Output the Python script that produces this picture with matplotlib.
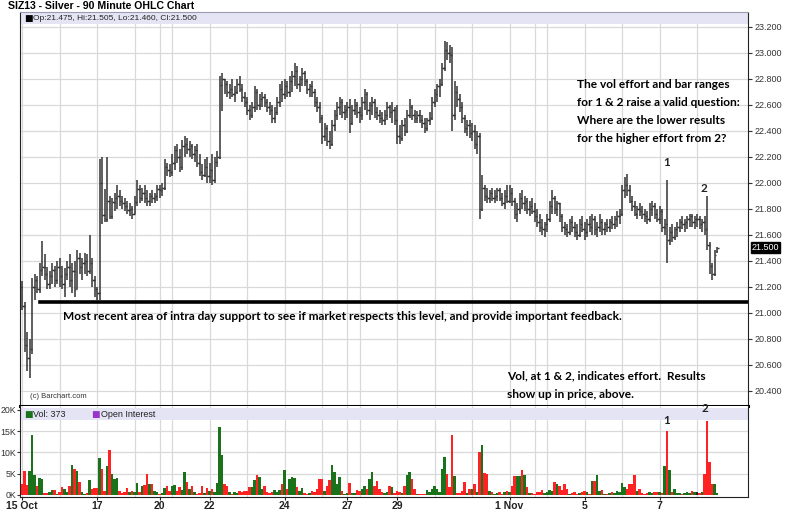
import numpy as np
import matplotlib.pyplot as plt
from matplotlib.patches import Rectangle
from matplotlib.transforms import blended_transform_factory

# sessions (90 minute bars per session)
day_labels = ['15 Oct', '16', '17', '18', '20', '21', '22', '23', '24', '25', '27',
              '28', '29', '30', '31', '1 Nov', '3', '4', '5', '6', '7', '8']
bars_per_day = [15, 15, 15, 10, 5, 15, 15, 15, 15, 10, 5, 15, 15, 15, 15, 10, 5, 15, 15, 15, 15, 9]
shown_days = ['15 Oct', '17', '20', '22', '24', '27', '29', '1 Nov', '5', '7']

opens = [21.20, 21.05, 20.75, 20.65, 20.72, 21.20, 21.25, 21.18, 21.33, 21.35, 21.30, 21.22, 21.28, 21.33, 21.25,
         21.35, 21.28, 21.22, 21.30, 21.35, 21.25, 21.32, 21.18, 21.42, 21.35, 21.38, 21.40, 21.32, 21.38, 21.25,
         21.18, 21.15, 22.00, 21.75, 21.72, 21.86, 21.74, 21.85, 21.88, 21.90, 21.86, 21.84, 21.82, 21.79, 21.80,
         21.76, 21.85, 21.95, 21.88, 21.92, 21.88, 21.86, 21.90, 21.88, 21.90,
         21.95, 21.94, 21.96, 22.12, 22.10,
         22.08, 22.15, 22.25, 22.20, 22.12, 22.28, 22.30, 22.26, 22.28, 22.22, 22.25, 22.15, 22.08, 22.06, 22.12,
         22.05, 22.10, 22.02, 22.16, 22.20, 22.75, 22.80, 22.76, 22.70, 22.72, 22.68, 22.70, 22.76, 22.72, 22.66,
         22.62, 22.56, 22.52, 22.58, 22.70, 22.60, 22.64, 22.66, 22.62, 22.58, 22.56, 22.50, 22.54, 22.62, 22.72,
         22.68, 22.74, 22.70, 22.78, 22.82, 22.86, 22.76, 22.80, 22.84, 22.78, 22.72, 22.74, 22.70, 22.62, 22.58,
         22.50, 22.36, 22.42, 22.32, 22.30, 22.44, 22.52, 22.58, 22.62, 22.54,
         22.56, 22.58, 22.46, 22.56, 22.60,
         22.54, 22.52, 22.62, 22.68, 22.56, 22.60, 22.62, 22.54, 22.52, 22.50, 22.48, 22.52, 22.58, 22.54, 22.56,
         22.48, 22.36, 22.34, 22.44, 22.40, 22.52, 22.58, 22.52, 22.50, 22.52, 22.48, 22.46, 22.42, 22.48, 22.50,
         22.62, 22.68, 22.74, 22.76, 22.88, 23.02, 23.00, 22.98, 22.52, 22.70, 22.64, 22.58, 22.50, 22.42, 22.44,
         22.38, 22.40, 22.30, 22.36, 21.80, 21.96, 21.90, 21.88, 21.92, 21.88, 21.90, 21.94, 21.88, 21.84, 21.90,
         21.86, 21.92, 21.86, 21.76, 21.80, 21.88, 21.84, 21.86, 21.80, 21.82,
         21.78, 21.74, 21.70, 21.66, 21.64,
         21.68, 21.72, 21.82, 21.88, 21.80, 21.84, 21.74, 21.66, 21.64, 21.62, 21.70, 21.66, 21.62, 21.60, 21.68,
         21.64, 21.62, 21.68, 21.66, 21.72, 21.64, 21.66, 21.70, 21.64, 21.68, 21.66, 21.70, 21.68, 21.72, 21.74,
         21.76, 21.94, 21.98, 21.94, 21.86, 21.82, 21.76, 21.80, 21.78, 21.76, 21.74, 21.72, 21.80, 21.82, 21.76,
         21.72, 21.78, 21.66, 21.68, 21.56, 21.62, 21.58, 21.64, 21.66, 21.70, 21.68, 21.70, 21.72, 21.74, 21.70,
         21.72, 21.72, 21.68, 21.70, 21.64, 21.52, 21.36, 21.30, 21.475]
highs = [21.24, 21.08, 20.85, 20.80, 21.27, 21.30, 21.28, 21.38, 21.55, 21.45, 21.35, 21.32, 21.38, 21.36, 21.40,
         21.42, 21.36, 21.34, 21.40, 21.45, 21.38, 21.40, 21.48, 21.46, 21.42, 21.46, 21.45, 21.60, 21.42, 21.28,
         21.20, 22.18, 22.20, 21.95, 22.20, 21.90, 21.88, 21.92, 21.98, 21.94, 21.90, 21.88, 21.86, 21.84, 21.82,
         21.90, 22.02, 21.98, 21.96, 21.98, 21.94, 21.92, 21.94, 21.92, 21.98,
         21.98, 22.00, 22.18, 22.15, 22.14,
         22.22, 22.28, 22.30, 22.26, 22.33, 22.36, 22.34, 22.32, 22.30, 22.28, 22.30, 22.22, 22.14, 22.18, 22.20,
         22.15, 22.22, 22.20, 22.24, 22.82, 22.84, 22.80, 22.78, 22.76, 22.80, 22.74, 22.80, 22.82, 22.76, 22.70,
         22.66, 22.60, 22.62, 22.74, 22.72, 22.68, 22.70, 22.68, 22.64, 22.62, 22.60, 22.58, 22.66, 22.76, 22.78,
         22.80, 22.78, 22.82, 22.86, 22.92, 22.90, 22.82, 22.88, 22.86, 22.80, 22.76, 22.78, 22.72, 22.66, 22.62,
         22.52, 22.46, 22.44, 22.40, 22.48, 22.56, 22.62, 22.66, 22.64, 22.60,
         22.62, 22.64, 22.60, 22.64, 22.62,
         22.58, 22.66, 22.72, 22.70, 22.62, 22.66, 22.64, 22.58, 22.56, 22.54, 22.56, 22.62, 22.60, 22.62, 22.58,
         22.60, 22.44, 22.48, 22.50, 22.56, 22.64, 22.60, 22.56, 22.55, 22.56, 22.52, 22.50, 22.50, 22.54, 22.66,
         22.72, 22.76, 22.80, 22.92, 23.09, 23.08, 23.06, 23.04, 22.78, 22.74, 22.68, 22.62, 22.52, 22.48, 22.48,
         22.46, 22.44, 22.40, 22.38, 22.06, 21.98, 21.96, 21.94, 21.96, 21.94, 21.96, 21.96, 21.92, 21.94, 21.98,
         21.98, 21.96, 21.88, 21.84, 21.92, 21.94, 21.90, 21.88, 21.86, 21.88,
         21.84, 21.80, 21.76, 21.72, 21.70,
         21.76, 21.86, 21.94, 21.90, 21.86, 21.84, 21.76, 21.70, 21.68, 21.72, 21.74, 21.70, 21.68, 21.72, 21.74,
         21.70, 21.72, 21.74, 21.76, 21.74, 21.70, 21.76, 21.72, 21.70, 21.72, 21.72, 21.74, 21.74, 21.78, 21.80,
         21.98, 22.04, 22.07, 21.98, 21.90, 21.86, 21.82, 21.84, 21.82, 21.80, 21.78, 21.84, 21.86, 21.84, 21.80,
         21.82, 21.80, 21.72, 22.02, 21.66, 21.68, 21.66, 21.70, 21.72, 21.74, 21.72, 21.74, 21.76, 21.76, 21.74,
         21.76, 21.74, 21.72, 21.74, 21.90, 21.54, 21.38, 21.48, 21.505]
lows = [21.02, 20.70, 20.55, 20.50, 20.68, 21.10, 21.15, 21.15, 21.28, 21.25, 21.18, 21.18, 21.22, 21.20, 21.22,
        21.20, 21.18, 21.12, 21.25, 21.20, 21.15, 21.12, 21.18, 21.30, 21.25, 21.30, 21.28, 21.30, 21.20, 21.12,
        21.10, 21.10, 21.68, 21.70, 21.70, 21.72, 21.72, 21.78, 21.80, 21.82, 21.80, 21.78, 21.76, 21.74, 21.72,
        21.76, 21.82, 21.84, 21.86, 21.84, 21.82, 21.82, 21.84, 21.84, 21.86,
        21.88, 21.90, 21.94, 22.05, 22.04,
        22.05, 22.10, 22.15, 22.08, 22.10, 22.20, 22.22, 22.20, 22.18, 22.16, 22.12, 22.05, 22.02, 22.04, 22.00,
        22.00, 21.98, 22.00, 22.12, 22.18, 22.55, 22.68, 22.66, 22.64, 22.66, 22.62, 22.68, 22.70, 22.62, 22.58,
        22.52, 22.48, 22.50, 22.54, 22.56, 22.56, 22.58, 22.58, 22.54, 22.52, 22.46, 22.46, 22.52, 22.58, 22.62,
        22.64, 22.66, 22.66, 22.70, 22.74, 22.72, 22.70, 22.74, 22.74, 22.68, 22.66, 22.66, 22.58, 22.54, 22.46,
        22.30, 22.32, 22.28, 22.26, 22.28, 22.40, 22.48, 22.52, 22.50, 22.48,
        22.50, 22.38, 22.44, 22.52, 22.50,
        22.46, 22.48, 22.56, 22.52, 22.48, 22.52, 22.50, 22.48, 22.46, 22.44, 22.44, 22.48, 22.50, 22.46, 22.44,
        22.30, 22.30, 22.32, 22.36, 22.38, 22.50, 22.48, 22.46, 22.46, 22.46, 22.42, 22.38, 22.40, 22.44, 22.48,
        22.58, 22.62, 22.66, 22.74, 22.86, 22.94, 22.92, 22.40, 22.48, 22.58, 22.54, 22.46, 22.38, 22.36, 22.34,
        22.32, 22.26, 22.22, 21.72, 21.78, 21.86, 21.84, 21.84, 21.86, 21.84, 21.86, 21.86, 21.82, 21.80, 21.84,
        21.84, 21.82, 21.72, 21.70, 21.76, 21.80, 21.78, 21.76, 21.74, 21.76,
        21.70, 21.66, 21.62, 21.60, 21.58,
        21.62, 21.70, 21.76, 21.76, 21.74, 21.70, 21.62, 21.60, 21.58, 21.60, 21.62, 21.58, 21.56, 21.58, 21.62,
        21.56, 21.58, 21.62, 21.60, 21.60, 21.58, 21.62, 21.60, 21.60, 21.62, 21.62, 21.64, 21.64, 21.66, 21.68,
        21.74, 21.88, 21.90, 21.84, 21.78, 21.74, 21.72, 21.74, 21.72, 21.70, 21.68, 21.70, 21.74, 21.72, 21.70,
        21.68, 21.62, 21.60, 21.38, 21.52, 21.54, 21.56, 21.58, 21.62, 21.64, 21.62, 21.64, 21.66, 21.66, 21.64,
        21.66, 21.64, 21.62, 21.60, 21.48, 21.30, 21.25, 21.28, 21.46]
closes = [21.05, 20.75, 20.65, 20.72, 21.20, 21.25, 21.18, 21.33, 21.35, 21.30, 21.22, 21.28, 21.33, 21.25, 21.35,
          21.28, 21.22, 21.30, 21.35, 21.25, 21.32, 21.18, 21.42, 21.35, 21.38, 21.40, 21.32, 21.38, 21.25, 21.18,
          21.15, 22.00, 21.75, 21.72, 21.86, 21.74, 21.85, 21.88, 21.90, 21.86, 21.84, 21.82, 21.79, 21.80, 21.76,
          21.85, 21.95, 21.88, 21.92, 21.88, 21.86, 21.90, 21.88, 21.90, 21.95,
          21.94, 21.96, 22.12, 22.10, 22.08,
          22.15, 22.25, 22.20, 22.12, 22.28, 22.30, 22.26, 22.28, 22.22, 22.25, 22.15, 22.08, 22.06, 22.12, 22.05,
          22.10, 22.02, 22.16, 22.20, 22.75, 22.80, 22.76, 22.70, 22.72, 22.68, 22.70, 22.76, 22.72, 22.66, 22.62,
          22.56, 22.52, 22.58, 22.70, 22.60, 22.64, 22.66, 22.62, 22.58, 22.56, 22.50, 22.54, 22.62, 22.72, 22.68,
          22.74, 22.70, 22.78, 22.82, 22.86, 22.76, 22.80, 22.84, 22.78, 22.72, 22.74, 22.70, 22.62, 22.58, 22.50,
          22.36, 22.42, 22.32, 22.30, 22.44, 22.52, 22.58, 22.62, 22.54, 22.56,
          22.58, 22.46, 22.56, 22.60, 22.54,
          22.52, 22.62, 22.68, 22.56, 22.60, 22.62, 22.54, 22.52, 22.50, 22.48, 22.52, 22.58, 22.54, 22.56, 22.48,
          22.36, 22.34, 22.44, 22.40, 22.52, 22.58, 22.52, 22.50, 22.52, 22.48, 22.46, 22.42, 22.48, 22.50, 22.62,
          22.68, 22.74, 22.76, 22.88, 23.02, 23.00, 22.98, 22.52, 22.70, 22.64, 22.58, 22.50, 22.42, 22.44, 22.38,
          22.40, 22.30, 22.36, 21.80, 21.96, 21.90, 21.88, 21.92, 21.88, 21.90, 21.94, 21.88, 21.84, 21.90, 21.86,
          21.92, 21.86, 21.76, 21.80, 21.88, 21.84, 21.86, 21.80, 21.82, 21.78,
          21.74, 21.70, 21.66, 21.64, 21.68,
          21.72, 21.82, 21.88, 21.80, 21.84, 21.74, 21.66, 21.64, 21.62, 21.70, 21.66, 21.62, 21.60, 21.68, 21.64,
          21.62, 21.68, 21.66, 21.72, 21.64, 21.66, 21.70, 21.64, 21.68, 21.66, 21.70, 21.68, 21.72, 21.74, 21.76,
          21.94, 21.98, 21.94, 21.86, 21.82, 21.76, 21.80, 21.78, 21.76, 21.74, 21.72, 21.80, 21.82, 21.76, 21.72,
          21.78, 21.66, 21.68, 21.56, 21.62, 21.58, 21.64, 21.66, 21.70, 21.68, 21.70, 21.72, 21.74, 21.70, 21.72,
          21.72, 21.68, 21.70, 21.64, 21.52, 21.36, 21.30, 21.44, 21.50]
# volume in thousands of contracts
volume_k = [2.7, 5.6, 2.4, 5.6, 14.0, 4.6, 2.2, 4.0, 3.8, 0.5, 0.4, 0.8, 1.1, 1.2, 0.3,
            0.8, 1.9, 1.5, 0.7, 2.0, 7.0, 6.0, 5.6, 3.0, 0.8, 0.3, 0.5, 3.6, 1.5, 1.7,
            1.6, 8.7, 6.0, 0.9, 6.7, 10.5, 5.0, 3.8, 4.0, 1.0, 0.5, 0.8, 1.7, 0.6, 1.0,
            0.8, 2.8, 0.8, 2.2, 2.4, 5.0, 2.5, 2.5, 1.0, 0.6,
            0.3, 0.5, 1.6, 2.0, 0.9,
            2.2, 2.3, 1.0, 1.8, 1.2, 5.4, 3.0, 1.3, 2.0, 0.6, 0.3, 0.5, 2.0, 0.4, 1.7,
            0.9, 1.5, 0.8, 2.8, 16.0, 9.5, 2.6, 2.0, 0.8, 0.3, 0.6, 0.5, 1.0, 0.8, 1.0,
            1.0, 1.8, 1.8, 3.5, 4.7, 4.2, 1.3, 2.0, 0.8, 0.4, 0.6, 1.1, 0.8, 1.2, 2.6,
            5.8, 1.5, 3.8, 4.2, 4.0, 1.8, 1.0, 1.6, 0.4, 0.3, 0.5, 1.0, 0.6, 1.3, 3.8,
            3.8, 1.0, 2.0, 3.6, 7.0, 5.3, 2.5, 4.2, 1.0, 0.3,
            0.4, 2.8, 0.5, 0.4, 1.2,
            1.0, 1.5, 2.0, 1.5, 3.8, 5.5, 2.0, 3.2, 1.5, 0.8, 0.4, 0.6, 2.0, 1.8, 0.5,
            1.0, 0.8, 0.5, 2.0, 4.8, 5.3, 3.8, 1.3, 0.3, 0.2, 0.2, 0.3, 1.2, 0.8, 1.5,
            2.2, 1.5, 0.8, 6.2, 9.0, 4.9, 1.8, 14.2, 4.5, 0.4, 0.5, 1.0, 3.1, 0.5, 1.5,
            1.5, 2.5, 0.8, 10.0, 11.8, 5.2, 5.0, 1.0, 0.6, 0.3, 0.4, 0.8, 0.3, 0.6, 1.0,
            0.8, 2.0, 4.5, 4.5, 4.5, 5.8, 4.6, 1.8, 0.5, 0.4,
            0.3, 0.8, 0.8, 1.2, 0.5,
            0.8, 1.2, 1.0, 3.1, 2.5, 2.0, 1.2, 2.6, 1.5, 0.3, 0.5, 0.8, 0.3, 0.5, 0.8,
            1.0, 0.8, 0.3, 3.2, 3.2, 4.6, 1.0, 1.2, 0.3, 0.2, 0.4, 0.8, 0.5, 1.0, 0.8,
            2.9, 1.8, 1.5, 2.5, 2.6, 4.7, 1.0, 1.5, 0.4, 0.3, 0.5, 0.6, 0.4, 0.8, 0.8,
            0.8, 0.4, 6.8, 15.0, 5.9, 0.8, 1.3, 0.4, 0.5, 0.3, 0.5, 0.8, 0.5, 0.9, 0.8,
            0.6, 0.4, 0.8, 4.9, 17.4, 7.8, 2.7, 2.7, 0.373]

price_ticks = [20.4, 20.6, 20.8, 21.0, 21.2, 21.4, 21.6, 21.8, 22.0, 22.2, 22.4, 22.6, 22.8, 23.0, 23.2]
vol_ticks = [0, 5, 10, 15, 20]
support_level = 21.08

opens, highs, lows, closes = map(np.array, (opens, highs, lows, closes))
volume_k = np.array(volume_k)
x = np.arange(len(closes))
day_starts = np.concatenate([[0], np.cumsum(bars_per_day)[:-1]])

W, H = 800, 513
fig = plt.figure(figsize=(W / 100, H / 100), dpi=100)
plt.rcParams['font.family'] = ['Liberation Sans', 'DejaVu Sans']


def fx(px):
    return px / W


def fy(py):
    return 1 - py / H


ax = fig.add_axes([fx(20), fy(406), fx(748) - fx(20), fy(12) - fy(406)])
axv = fig.add_axes([fx(20), fy(497), fx(748) - fx(20), fy(406) - fy(497)], sharex=ax)

grid_c = '#d9d9d9'
for a in (ax, axv):
    for d in day_starts:
        a.axvline(d, color=grid_c, lw=0.9, zorder=0)
    for s in a.spines.values():
        s.set_color('#222222')

# price panel
for t in price_ticks:
    ax.axhline(t, color=grid_c, lw=0.9, zorder=0)
bar_c = '#333333'
ax.vlines(x, lows, highs, color=bar_c, lw=1.1)
ax.hlines(opens, x - 0.6, x, color=bar_c, lw=1.0)
ax.hlines(closes, x, x + 0.6, color=bar_c, lw=1.0)
ax.axhline(support_level, xmin=(7.2 + 0.8) / 291.2, color='black', lw=2.6)

ax.set_xlim(-0.8, 290.4)
ax.set_ylim(20.282, 23.313)
ax.yaxis.tick_right()
ax.set_yticks(price_ticks)
ax.set_yticklabels([f'{t:.3f}' for t in price_ticks])
ax.tick_params(axis='y', length=3, width=0.8, pad=2, labelsize=6.5, colors='#333333')
ax.tick_params(axis='x', bottom=False, labelbottom=False)
ax.spines['bottom'].set_linewidth(2.2)
ax.spines['bottom'].set_color('black')
ax.spines['top'].set_color('#9a9ab0')

# header band inside price panel
ax.add_patch(Rectangle((0, 1 - 12 / 394), 1, 12 / 394, transform=ax.transAxes,
                       facecolor='#e4e4f4', edgecolor='none', zorder=1))
trans = blended_transform_factory(ax.transAxes, ax.transData)
ax.text(1 + 4 / 728, closes[-1], f'{closes[-1]:.3f}', transform=trans, fontsize=6.5,
        color='white', va='center', ha='left',
        bbox=dict(boxstyle='square,pad=0.1', facecolor='black', edgecolor='black'))

# volume panel
for t in vol_ticks[1:-1]:
    axv.axhline(t, color=grid_c, lw=0.9, zorder=0)
up = closes > opens
down = closes < opens
vol_colors = np.where(up, '#1a721a', np.where(down, '#ff2222', '#222222'))
axv.bar(x, volume_k, width=0.85, color=vol_colors, edgecolor='none', zorder=2)
axv.set_ylim(-0.47, 20.9)
axv.set_yticks(vol_ticks)
axv.set_yticklabels([f'{t}K' for t in vol_ticks])
axv.tick_params(axis='y', length=2, width=0.8, pad=0.5, labelsize=6.3, colors='#333333')
axv.spines['top'].set_visible(False)
axv.add_patch(Rectangle((0, 1 - 14 / 91), 1, 12 / 91, transform=axv.transAxes,
                        facecolor='#e4e4f4', edgecolor='none', zorder=1))
tick_pos = [day_starts[day_labels.index(d)] for d in shown_days]
axv.set_xticks(tick_pos)
axv.set_xticklabels(shown_days, fontweight='bold', fontsize=7.5)
axv.tick_params(axis='x', length=2, pad=1, colors='#222222')

# header texts
fig.text(fx(8), fy(6), 'SIZ13 - Silver - 90 Minute OHLC Chart', fontsize=7.6, fontweight='bold',
         va='center', ha='left')
fig.text(fx(24), fy(18.5), '■', fontsize=6.5, va='center', ha='left', color='black',
         family=['DejaVu Sans'])
fig.text(fx(33), fy(18.5),
         f'Op:{opens[-1]:.3f}, Hi:{highs[-1]:.3f}, Lo:{lows[-1]:.3f}, Cl:{closes[-1]:.3f}',
         fontsize=6, va='center', ha='left', color='#222222')
fig.text(fx(24), fy(414.5), '■', fontsize=6.5, va='center', ha='left', color='#1a721a',
         family=['DejaVu Sans'])
fig.text(fx(33), fy(414.5), f'Vol: {volume_k[-1] * 1000:.0f}', fontsize=6.5, va='center',
         ha='left', color='#222222')
fig.text(fx(91), fy(414.5), '■', fontsize=6.5, va='center', ha='left', color='#9933cc',
         family=['DejaVu Sans'])
fig.text(fx(101), fy(414.5), 'Open Interest', fontsize=6.5, va='center', ha='left',
         color='#222222')
fig.text(fx(30), fy(397), '(c) Barchart.com', fontsize=5.5, va='center', ha='left',
         color='#333333')

# commentary
note = dict(family=['Lato', 'DejaVu Sans'], fontweight='bold', fontsize=8.6, va='center',
            ha='left', color='black')
fig.text(fx(63), fy(316), 'Most recent area of intra day support to see if market respects '
         'this level, and provide important feedback.', **note)
for i, line in enumerate(['The vol effort and bar ranges', 'for 1 & 2 raise a valid question:',
                          'Where are the lower results', 'for the higher effort from 2?']):
    fig.text(fx(577), fy(85 + 18 * i), line, **note)
fig.text(fx(507), fy(376), 'Vol, at 1 & 2, indicates effort.  Results', **note)
fig.text(fx(507), fy(394), 'show up in price, above.', **note)
lab = dict(family=['Lato', 'DejaVu Sans'], fontweight='bold', fontsize=8.4, va='center',
           ha='center', color='#222222')
fig.text(fx(667), fy(163), '1', **lab)
fig.text(fx(704), fy(188), '2', **lab)
fig.text(fx(667), fy(421), '1', **lab)
fig.text(fx(705), fy(408), '2', **lab)

fig.savefig('out.png', dpi=100, facecolor='white')
